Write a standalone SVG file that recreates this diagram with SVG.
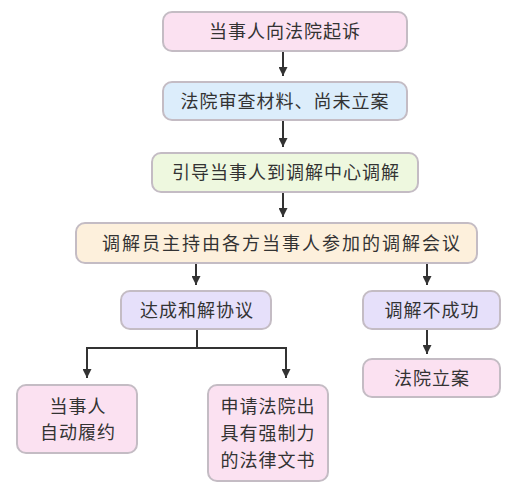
<svg xmlns="http://www.w3.org/2000/svg" width="505" height="493" viewBox="0 0 505 493">
<style>
.box{stroke:#c4bcc4;stroke-width:2}
.pink{fill:#fbe1f1}
.blue{fill:#dcedfb}
.green{fill:#eef8df}
.peach{fill:#fdf0dc}
.lav{fill:#e6e0fa}
text{font-family:"Noto Sans CJK SC","Noto Sans",sans-serif;font-size:18px;fill:#333;text-anchor:middle;letter-spacing:1px}
text.wide{letter-spacing:2px}
.conn{stroke:#333;stroke-width:2;fill:none}
</style>
<defs>
<marker id="a" markerWidth="9" markerHeight="9" refX="9" refY="4.5" orient="auto" markerUnits="userSpaceOnUse" viewBox="0 0 9 9">
<path d="M0,0 L9,4.5 L0,9 Z" fill="#333"/>
</marker>
</defs>
<rect width="505" height="493" fill="#fff"/>
<g id="connectors">
<line class="conn" x1="283" y1="51" x2="283" y2="76" marker-end="url(#a)"/>
<line class="conn" x1="283" y1="120" x2="283" y2="147" marker-end="url(#a)"/>
<line class="conn" x1="283" y1="193" x2="283" y2="217" marker-end="url(#a)"/>
<line class="conn" x1="196" y1="264" x2="196" y2="285" marker-end="url(#a)"/>
<line class="conn" x1="427" y1="264" x2="427" y2="285" marker-end="url(#a)"/>
<line class="conn" x1="427" y1="330" x2="427" y2="354" marker-end="url(#a)"/>
<path class="conn" d="M197,330 V348 M86,348 H287"/>
<line class="conn" x1="87" y1="347" x2="87" y2="378" marker-end="url(#a)"/>
<line class="conn" x1="286" y1="347" x2="286" y2="378" marker-end="url(#a)"/>
</g>
<g id="n1"><rect class="box pink" x="163" y="12" width="244" height="39" rx="9"/><text x="285" y="38">当事人向法院起诉</text></g>
<g id="n2"><rect class="box blue" x="163" y="82" width="244" height="38" rx="9"/><text x="285" y="108">法院审查材料、尚未立案</text></g>
<g id="n3"><rect class="box green" x="152" y="153" width="266" height="39" rx="9"/><text x="286" y="179">引导当事人到调解中心调解</text></g>
<g id="n4"><rect class="box peach" x="76" y="223" width="401" height="40" rx="9"/><text class="wide" x="282" y="250">调解员主持由各方当事人参加的调解会议</text></g>
<g id="n5"><rect class="box lav" x="121" y="291" width="150" height="38" rx="9"/><text x="197" y="317">达成和解协议</text></g>
<g id="n6"><rect class="box lav" x="363" y="291" width="137" height="38" rx="9"/><text x="432" y="317">调解不成功</text></g>
<g id="n7"><rect class="box pink" x="363" y="359" width="137" height="38" rx="9"/><text x="432" y="385">法院立案</text></g>
<g id="n8"><rect class="box pink" x="17" y="385" width="120" height="68" rx="9"/><text x="78" y="413">当事人</text><text x="78" y="439">自动履约</text></g>
<g id="n9"><rect class="box pink" x="208" y="385" width="120" height="96" rx="9"/><text x="268" y="413">申请法院出</text><text x="268" y="440">具有强制力</text><text x="268" y="467">的法律文书</text></g>
</svg>
